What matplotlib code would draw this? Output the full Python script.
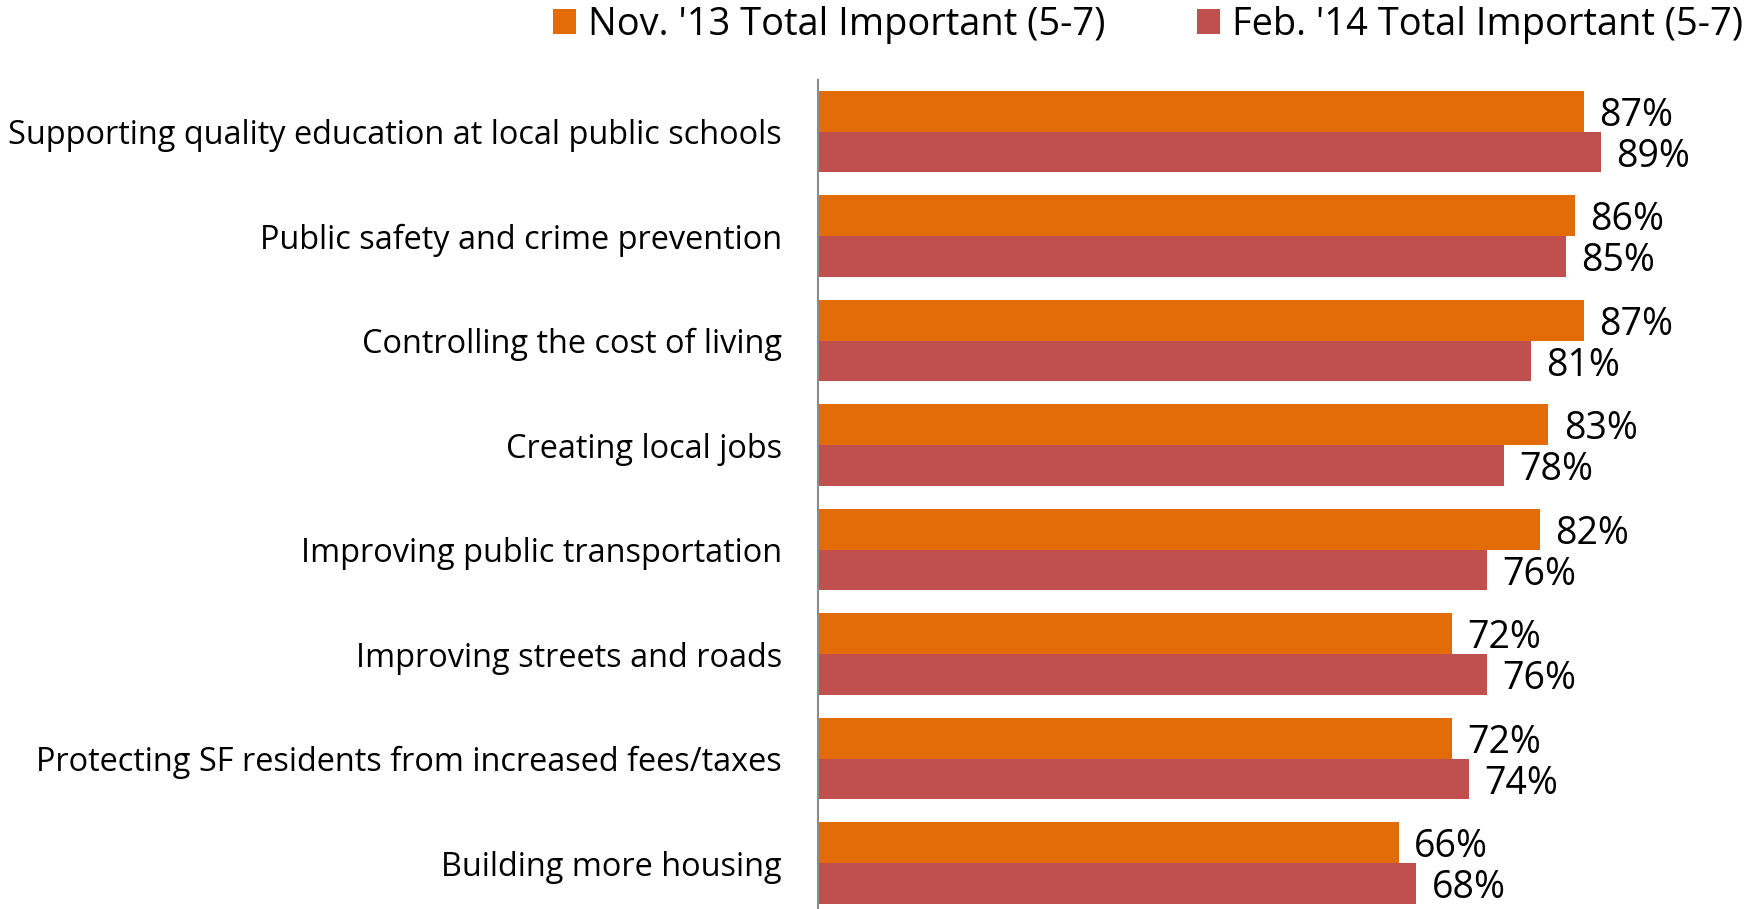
import matplotlib
matplotlib.use("Agg")
import matplotlib.pyplot as plt
from matplotlib.patches import Patch
import numpy as np

plt.rcParams['font.family'] = ['Open Sans', 'DejaVu Sans']

categories = [
    "Supporting quality education at local public schools",
    "Public safety and crime prevention",
    "Controlling the cost of living",
    "Creating local jobs",
    "Improving public transportation",
    "Improving streets and roads",
    "Protecting SF residents from increased fees/taxes",
    "Building more housing",
]
nov13 = [87, 86, 87, 83, 82, 72, 72, 66]
feb14 = [89, 85, 81, 78, 76, 76, 74, 68]
series_names = ["Nov. '13 Total Important (5-7)", "Feb. '14 Total Important (5-7)"]
colors = ['#E36C09', '#C0504D']

fig = plt.figure(figsize=(17.48, 9.09), dpi=100)
ax = fig.add_axes([818 / 1748, 0, 880 / 1748, (909 - 80) / 909])

y = np.arange(len(categories))
h = 0.392
bars1 = ax.barh(y - h / 2, nov13, height=h, color=colors[0], linewidth=0)
bars2 = ax.barh(y + h / 2, feb14, height=h, color=colors[1], linewidth=0)

for bars, vals in ((bars1, nov13), (bars2, feb14)):
    for b, v in zip(bars, vals):
        ax.annotate(f"{v}%", (b.get_width(), b.get_y() + b.get_height() / 2),
                    xytext=(11, -3.5), textcoords='offset points',
                    va='center', ha='left', fontsize=27, color='black')

ax.set_xlim(0, 100)
ax.set_ylim(7.44, -0.493)
ax.set_yticks(y)
ax.set_yticklabels(categories, fontsize=23.4)
ax.tick_params(axis='y', length=0, pad=26)
ax.set_xticks([])
for s in ('top', 'right', 'bottom'):
    ax.spines[s].set_visible(False)
ax.spines['left'].set_color('#8C8C8C')
ax.spines['left'].set_linewidth(1.5)

handles = [Patch(facecolor=c, edgecolor='none') for c in colors]
fig.legend(handles, series_names, loc='center right', bbox_to_anchor=(0.997, 1 - 25 / 909),
           ncol=2, frameon=False, fontsize=27.4, handlelength=0.62, handleheight=0.62,
           handletextpad=0.3, columnspacing=2.4, borderpad=0, borderaxespad=0)

fig.savefig("out.png", dpi=100)
